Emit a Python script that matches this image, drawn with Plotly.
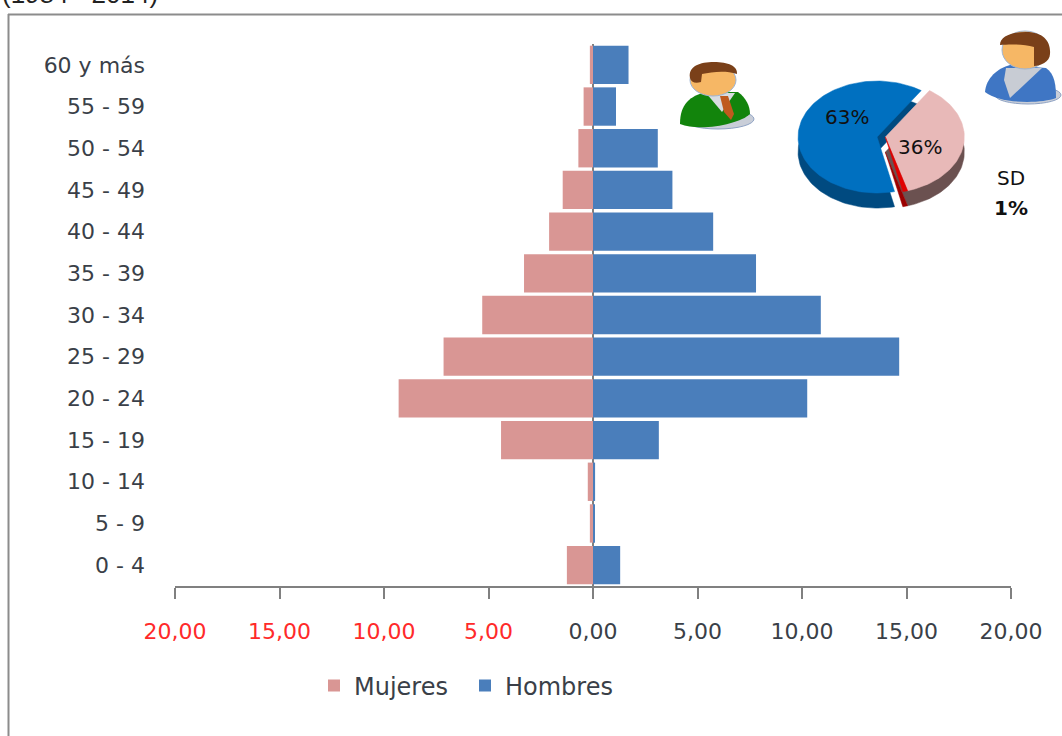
import math
import plotly.graph_objects as go

# ---------- data ----------
age_groups = ["0 - 4", "5 - 9", "10 - 14", "15 - 19", "20 - 24", "25 - 29", "30 - 34",
              "35 - 39", "40 - 44", "45 - 49", "50 - 54", "55 - 59", "60 y más"]
mujeres = [1.25, 0.15, 0.25, 4.4, 9.3, 7.15, 5.3, 3.3, 2.1, 1.45, 0.7, 0.45, 0.15]
hombres = [1.3, 0.05, 0.1, 3.15, 10.25, 14.65, 10.9, 7.8, 5.75, 3.8, 3.1, 1.1, 1.7]
x_ticks = [-20, -15, -10, -5, 0, 5, 10, 15, 20]
x_tick_labels = ["20,00", "15,00", "10,00", "5,00", "0,00", "5,00", "10,00", "15,00", "20,00"]
pie_names = ["Mujeres", "SD", "Hombres"]
pie_shares = [36, 1, 63]
pie_labels = ["36%", "1%", "63%"]

# ---------- style ----------
W, H = 1062, 736
BLUE, PINK = "#4a7ebb", "#d99694"
DARK = "#3a3f48"
RED = "#ff2a2a"
FONT = "DejaVu Sans, sans-serif"
pie_top = ["#e8b9b8", "#e00000", "#0070c0"]
pie_side = ["#6b5150", "#9c0000", "#004a80"]
PIE_START = 56
DEPTH = 0.27
# exploded offsets: Mujeres and SD move together to the right, Hombres to the left
pie_offset = [(0.055, 0.0), (0.055, 0.0), (-0.05, 0.0)]


def px(x):
    return x / W


def py(y):
    return 1 - y / H


def poly(points):
    return "M " + " L ".join(f"{px(a):.5f} {py(b):.5f}" for a, b in points) + " Z"


def curve(d):
    # d: list of (command, [(x, y), ...]) in pixels, converted to paper units
    out = []
    for cmd, pts in d:
        out.append(cmd + " " + " ".join(f"{px(a):.5f} {py(b):.5f}" for a, b in pts))
    return " ".join(out) + " Z"


def blob(cx, cy, rx, ry, color, line=None):
    return dict(type="circle", xref="paper", yref="paper", x0=px(cx - rx), x1=px(cx + rx),
                y0=py(cy + ry), y1=py(cy - ry), fillcolor=color,
                line=dict(width=1 if line else 0, color=line or color), layer="above")


def path(d, color):
    return dict(type="path", xref="paper", yref="paper", path=d, fillcolor=color,
                line=dict(width=0), layer="above")


fig = go.Figure()
fig.add_trace(go.Bar(y=age_groups, x=[-v for v in mujeres], name="Mujeres", orientation="h",
                     marker=dict(color=PINK, line=dict(width=0))))
fig.add_trace(go.Bar(y=age_groups, x=hombres, name="Hombres", orientation="h",
                     marker=dict(color=BLUE, line=dict(width=0))))


# ---------- tilted pie built from the shares, on its own hidden axes ----------
def wedge(a0, a1, offset, dy=0.0):
    ox, oy = offset
    n = max(2, int(abs(a1 - a0) / 2))
    xs, ys = [ox], [oy - dy]
    for i in range(n + 1):
        t = math.radians(a0 + (a1 - a0) * i / n)
        xs.append(ox + math.cos(t))
        ys.append(oy - dy + math.sin(t))
    xs.append(ox)
    ys.append(oy - dy)
    return xs, ys


angles = []
start = PIE_START
for s in pie_shares:
    end = start - s * 3.6
    angles.append((start, end))
    start = end

for layer_colors, dy in ((pie_side, DEPTH), (pie_top, 0.0)):
    for i in (2, 0, 1):
        a0, a1 = angles[i]
        xs, ys = wedge(a0, a1, pie_offset[i], dy)
        fig.add_trace(go.Scatter(x=xs, y=ys, xaxis="x2", yaxis="y2", mode="lines", fill="toself",
                                 fillcolor=layer_colors[i], line=dict(width=0.5, color=layer_colors[i]),
                                 name=pie_names[i], showlegend=False, hoverinfo="skip"))

# ---------- icons and frame ----------
shapes = [
    dict(type="line", xref="paper", yref="paper", x0=px(8.5), x1=px(8.5), y0=py(14), y1=py(740),
         line=dict(color="#8c8c8c", width=2)),
    dict(type="line", xref="paper", yref="paper", x0=px(8), x1=px(1064), y0=py(14.5), y1=py(14.5),
         line=dict(color="#8c8c8c", width=2)),
    # man
    blob(718, 119, 36, 10, "#c9ced8", "#8fa3c4"),
    path(curve([("M", [(680, 124)]), ("C", [(680, 104), (690, 96), (706, 92)]),
                ("L", [(738, 92)]), ("C", [(746, 98), (750, 106), (750, 114)]),
                ("C", [(740, 124), (700, 132), (680, 124)])]), "#12840c"),
    path(poly([(706, 93), (722, 112), (735, 93)]), "#d8dce0"),
    path(poly([(720, 96), (728, 96), (734, 114), (731, 120), (724, 112)]), "#bf5a1e"),
    blob(713, 80, 23, 16, "#f6b765", "#9db4d4"),
    path(curve([("M", [(690, 78)]), ("C", [(688, 66), (700, 62), (714, 62)]),
                ("C", [(728, 62), (738, 66), (737, 74)]), ("C", [(725, 70), (712, 72), (702, 74)]),
                ("L", [(701, 82)]), ("C", [(695, 84), (691, 82), (690, 78)])]), "#7a4019"),
    # woman
    blob(1028, 95, 33, 9, "#c9ced8", "#8fa3c4"),
    path(curve([("M", [(985, 92)]), ("C", [(986, 78), (998, 68), (1010, 65)]),
                ("L", [(1046, 68)]), ("C", [(1055, 74), (1056, 86), (1056, 98)]),
                ("C", [(1040, 104), (1000, 104), (985, 92)])]), "#3f76c4"),
    path(poly([(1006, 68), (1042, 68), (1010, 98), (1004, 80)]), "#c8ccd4"),
    blob(1025, 50, 23, 19, "#f6b765", "#9db4d4"),
    path(curve([("M", [(1000, 45)]), ("C", [(1000, 36), (1012, 32), (1026, 32)]),
                ("C", [(1044, 32), (1051, 42), (1050, 54)]), ("C", [(1050, 62), (1040, 66), (1034, 66)]),
                ("L", [(1034, 47)]), ("C", [(1024, 44), (1010, 44), (1000, 45)])]), "#7a4019"),
]


def note(x, y, text, size=20, color="#111111", family=FONT, weight=None):
    return dict(xref="paper", yref="paper", x=px(x), y=py(y), text=text, showarrow=False,
                xanchor="center", yanchor="middle", font=dict(size=size, color=color, family=family))


annotations = [
    note(847, 117, pie_labels[2]),
    note(920, 147, pie_labels[0]),
    note(1011, 178, pie_names[1]),
    note(1011, 208, f"<b>{pie_labels[1]}</b>"),
    note(80, -6, "(1984 - 2014)", size=26, color="#222222", family="Liberation Sans, Arial, sans-serif"),
]

tick_text = [f'<span style="color:{RED if i < 4 else DARK}">{t}</span>'
             for i, t in enumerate(x_tick_labels)]

fig.update_layout(
    width=W, height=H, autosize=False,
    margin=dict(l=0, r=0, t=0, b=0, autoexpand=False),
    paper_bgcolor="white", plot_bgcolor="white",
    barmode="relative", bargap=0.08,
    font=dict(family=FONT, size=22, color=DARK),
    xaxis=dict(domain=[px(175), px(1011)], range=[-20, 20], tickmode="array", tickvals=x_ticks,
               ticktext=tick_text, ticks="outside", ticklen=11, tickcolor="#808080", tickwidth=1.5,
               showline=True, linecolor="#808080", linewidth=2, showgrid=False,
               zeroline=True, zerolinecolor="#808080", zerolinewidth=2, automargin=False,
               ticklabelstandoff=14, tickfont=dict(size=22, color=DARK)),
    yaxis=dict(domain=[py(586), py(44)], type="category", categoryorder="array",
               categoryarray=age_groups, showgrid=False, showline=False, ticks="", automargin=False,
               ticklabelstandoff=29, tickfont=dict(size=22, color=DARK)),
    xaxis2=dict(domain=[px(780), px(980)], range=[-101 / 79, 99 / 79], visible=False, anchor="y2", fixedrange=True),
    yaxis2=dict(domain=[py(220), py(70)], range=[-83 / 56, 67 / 56], visible=False, anchor="x2", fixedrange=True),
    legend=dict(orientation="h", x=px(314), y=py(686), xanchor="left", yanchor="middle",
                entrywidth=106, entrywidthmode="pixels",
                font=dict(size=24, color=DARK), traceorder="normal", bgcolor="rgba(0,0,0,0)"),
    shapes=shapes,
    annotations=annotations,
)

fig.write_html("out.html", config={"displayModeBar": False},
               post_script="document.body.style.margin='0';")
